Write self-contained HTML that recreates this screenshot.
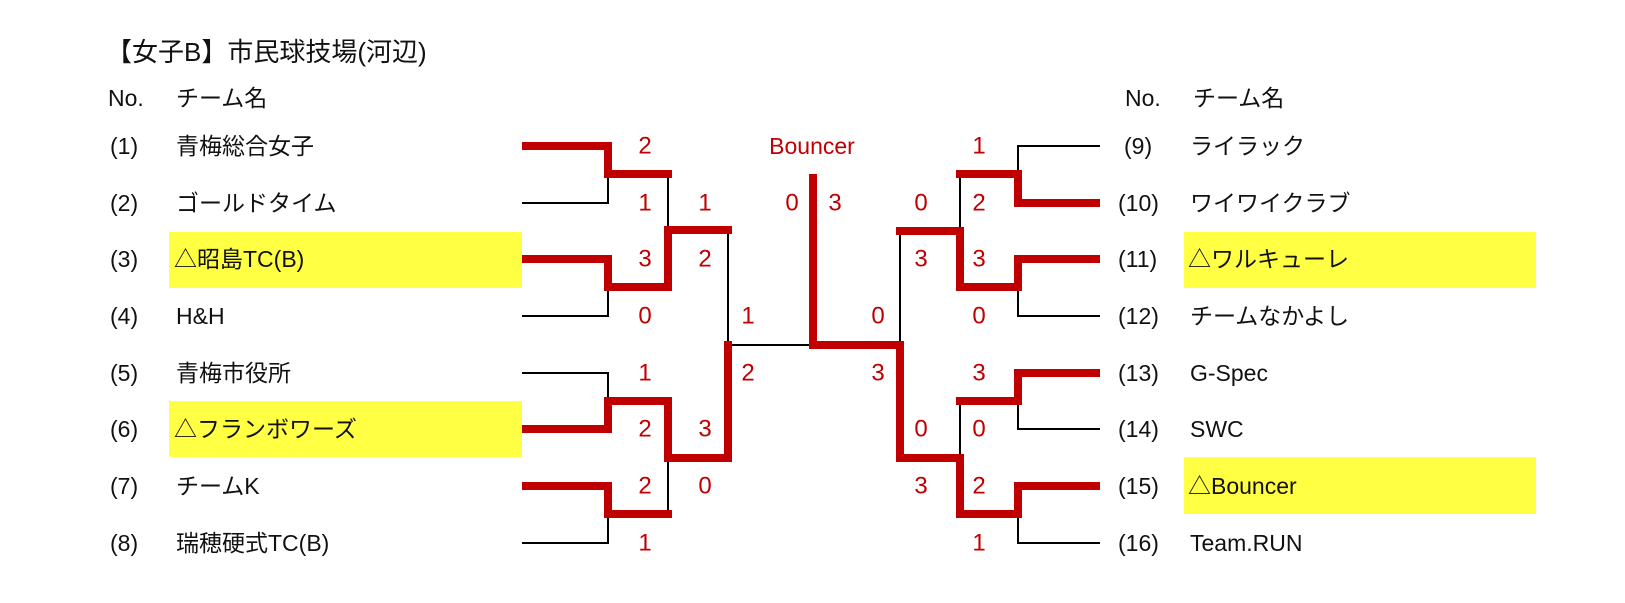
<!DOCTYPE html>
<html><head><meta charset="utf-8"><style>
html,body{margin:0;padding:0;background:#fff;}
svg{display:block;}
text{font-family:"Liberation Sans","Noto Sans CJK JP",sans-serif;dominant-baseline:central;}
.t{font-size:23px;fill:#111;}
.s{font-size:24px;fill:#c00000;text-anchor:middle;}
</style></head><body>
<svg width="1625" height="603" viewBox="0 0 1625 603" xmlns="http://www.w3.org/2000/svg">
<rect x="169" y="232" width="353" height="56" fill="#ffff44"/>
<rect x="169" y="401" width="353" height="56" fill="#ffff44"/>
<rect x="1184" y="232" width="352" height="56" fill="#ffff44"/>
<rect x="1184" y="457" width="352" height="57" fill="#ffff44"/>

<text class="t" x="106" y="52" style="font-size:26px">【女子B】市民球技場(河辺)</text>
<text class="t" x="108" y="98">No.</text><text class="t" x="176" y="98">チーム名</text>
<text class="t" x="1125" y="98">No.</text><text class="t" x="1193" y="98">チーム名</text>

<g class="t">
<text class="t" x="110" y="146">(1)</text><text class="t" x="176" y="146">青梅総合女子</text>
<text class="t" x="110" y="203">(2)</text><text class="t" x="176" y="203">ゴールドタイム</text>
<text class="t" x="110" y="259">(3)</text><text class="t" x="174" y="259">△昭島TC(B)</text>
<text class="t" x="110" y="316">(4)</text><text class="t" x="176" y="316">H&amp;H</text>
<text class="t" x="110" y="373">(5)</text><text class="t" x="176" y="373">青梅市役所</text>
<text class="t" x="110" y="429">(6)</text><text class="t" x="174" y="429">△フランボワーズ</text>
<text class="t" x="110" y="486">(7)</text><text class="t" x="176" y="486">チームK</text>
<text class="t" x="110" y="543">(8)</text><text class="t" x="176" y="543">瑞穂硬式TC(B)</text>

<text class="t" x="1124" y="146">(9)</text><text class="t" x="1190" y="146">ライラック</text>
<text class="t" x="1118" y="203">(10)</text><text class="t" x="1190" y="203">ワイワイクラブ</text>
<text class="t" x="1118" y="259">(11)</text><text class="t" x="1188" y="259">△ワルキューレ</text>
<text class="t" x="1118" y="316">(12)</text><text class="t" x="1190" y="316">チームなかよし</text>
<text class="t" x="1118" y="373">(13)</text><text class="t" x="1190" y="373">G-Spec</text>
<text class="t" x="1118" y="429">(14)</text><text class="t" x="1190" y="429">SWC</text>
<text class="t" x="1118" y="486">(15)</text><text class="t" x="1188" y="486">△Bouncer</text>
<text class="t" x="1118" y="543">(16)</text><text class="t" x="1190" y="543">Team.RUN</text>
</g>

<g stroke="#000" stroke-width="2" fill="none">
<polyline points="522,203 608,203 608,174"/>
<polyline points="522,316 608,316 608,287"/>
<polyline points="522,373 608,373 608,401"/>
<polyline points="522,543 608,543 608,514"/>
<line x1="668" y1="174" x2="668" y2="230"/>
<line x1="668" y1="458" x2="668" y2="514"/>
<line x1="728" y1="230" x2="728" y2="345"/>
<line x1="728" y1="345" x2="813" y2="345"/>
<line x1="900" y1="345" x2="900" y2="231"/>
<line x1="960" y1="231" x2="960" y2="174"/>
<line x1="960" y1="401" x2="960" y2="458"/>
<polyline points="1100,146 1018,146 1018,174"/>
<polyline points="1100,316 1018,316 1018,287"/>
<polyline points="1100,429 1018,429 1018,401"/>
<polyline points="1100,543 1018,543 1018,514"/>
</g>

<g stroke="#c00000" stroke-width="8" fill="none" stroke-linecap="square" stroke-linejoin="miter">
<polyline points="526,146 608,146 608,174 668,174"/>
<polyline points="526,259 608,259 608,287 668,287 668,230 728,230"/>
<polyline points="526,429 608,429 608,401 668,401 668,458 728,458 728,345"/>
<polyline points="526,486 608,486 608,514 668,514"/>
<polyline points="813,178 813,345 900,345 900,458 960,458 960,514 1018,514 1018,486 1096,486"/>
<polyline points="900,231 960,231 960,287 1018,287 1018,259 1096,259"/>
<polyline points="960,174 1018,174 1018,203 1096,203"/>
<polyline points="960,401 1018,401 1018,373 1096,373"/>
</g>

<g>
<text class="s" x="645" y="146">2</text><text class="s" x="645" y="203">1</text>
<text class="s" x="645" y="259">3</text><text class="s" x="645" y="316">0</text>
<text class="s" x="645" y="373">1</text><text class="s" x="645" y="429">2</text>
<text class="s" x="645" y="486">2</text><text class="s" x="645" y="543">1</text>
<text class="s" x="705" y="203">1</text><text class="s" x="705" y="259">2</text>
<text class="s" x="705" y="429">3</text><text class="s" x="705" y="486">0</text>
<text class="s" x="748" y="316">1</text><text class="s" x="748" y="373">2</text>
<text class="s" x="812" y="146" style="font-size:23px">Bouncer</text>
<text class="s" x="792" y="203">0</text><text class="s" x="835" y="203">3</text>
<text class="s" x="878" y="316">0</text><text class="s" x="878" y="373">3</text>
<text class="s" x="921" y="203">0</text><text class="s" x="921" y="259">3</text>
<text class="s" x="921" y="429">0</text><text class="s" x="921" y="486">3</text>
<text class="s" x="979" y="146">1</text><text class="s" x="979" y="203">2</text>
<text class="s" x="979" y="259">3</text><text class="s" x="979" y="316">0</text>
<text class="s" x="979" y="373">3</text><text class="s" x="979" y="429">0</text>
<text class="s" x="979" y="486">2</text><text class="s" x="979" y="543">1</text>
</g>
</svg>
</body></html>
